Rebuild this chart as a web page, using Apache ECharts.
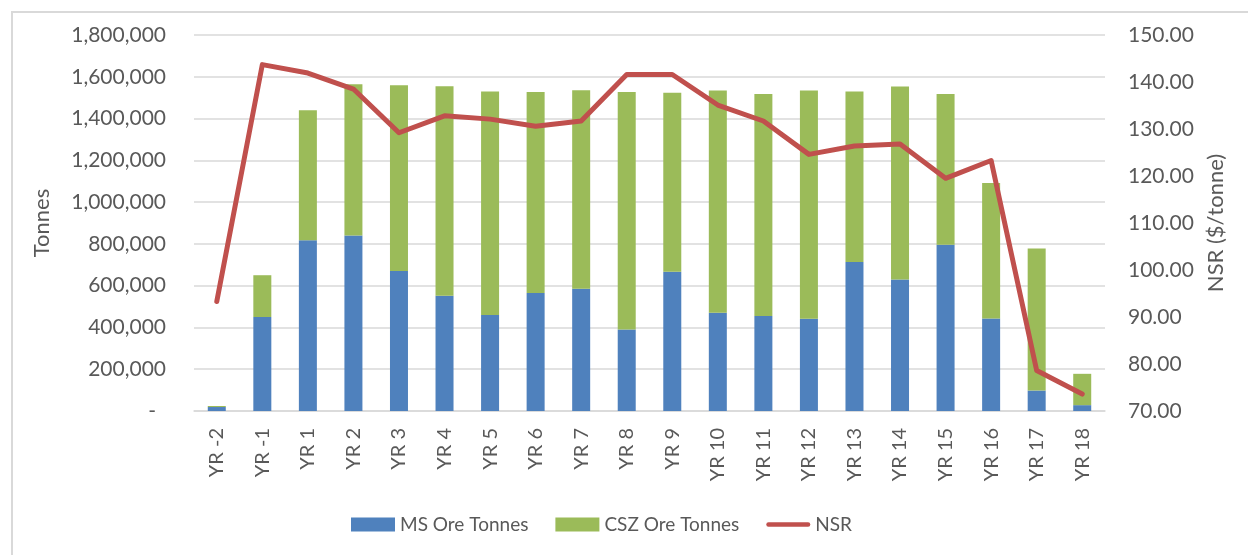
<!DOCTYPE html>
<html>
<head>
<meta charset="utf-8">
<script src="https://cdn.jsdelivr.net/npm/echarts@6/dist/echarts.min.js"></script>
<style>
html,body{margin:0;padding:0;background:#fff;}
#frame{position:absolute;left:11px;top:11px;width:1300px;height:600px;border-left:2px solid #D9D9D9;border-top:2px solid #D9D9D9;box-sizing:border-box;}
#chart{position:absolute;left:0;top:0;width:1248px;height:555px;}
</style>
</head>
<body>
<div id="frame"></div>
<div id="chart"></div>
<script>
const categories = ['YR -2','YR -1','YR 1','YR 2','YR 3','YR 4','YR 5','YR 6','YR 7','YR 8','YR 9','YR 10','YR 11','YR 12','YR 13','YR 14','YR 15','YR 16','YR 17','YR 18'];
const msOreTonnes = [19000,450000,818000,840000,670000,552000,460000,565000,585000,390000,667000,470000,455000,442000,713000,630000,796000,443000,98000,28000];
const cszOreTonnes = [5000,200000,622000,724000,890000,1003000,1070000,962000,950000,1137000,857000,1064000,1063000,1092000,816000,924000,721000,648000,680000,150000];
const nsr = [93.3,143.7,141.9,138.5,129.2,132.8,132.1,130.6,131.7,141.6,141.6,135.1,131.7,124.6,126.4,126.8,119.5,123.3,78.6,73.6];

const FONT = 'Lato';
const TXT = '#595959';
const FS = 21;
const chart = echarts.init(document.getElementById('chart'), null, {renderer:'canvas'});
chart.setOption({
  animation:false,
  backgroundColor:'transparent',
  textStyle:{fontFamily:FONT, color:TXT},
  grid:{left:194, right:143, top:35, bottom:144, containLabel:false},
  legend:{
    left:346, top:510, itemWidth:44, itemHeight:14, itemGap:27,
    textStyle:{fontFamily:FONT, fontSize:19, color:TXT},
    data:[
      {name:'MS Ore Tonnes', icon:'rect'},
      {name:'CSZ Ore Tonnes', icon:'rect'},
      {name:'NSR', icon:'path://M5,0 L95,0 A5,5 0 0 1 95,10 L5,10 A5,5 0 0 1 5,0 Z', itemStyle:{color:'#C0504D'}}
    ]
  },
  xAxis:{
    type:'category', data:categories,
    axisLine:{lineStyle:{color:'#D9D9D9', width:1.5}},
    axisTick:{show:false},
    axisLabel:{rotate:90, fontFamily:FONT, fontSize:20, color:TXT, margin:17, interval:0}
  },
  yAxis:[
    {
      type:'value', min:0, max:1800000, interval:200000,
      name:'Tonnes', nameLocation:'middle', nameGap:141, nameRotate:90,
      nameTextStyle:{fontFamily:FONT, fontSize:22, color:TXT},
      axisLine:{show:false}, axisTick:{show:false},
      splitLine:{lineStyle:{color:'#D9D9D9', width:1.5}},
      axisLabel:{fontFamily:FONT, fontSize:FS, color:TXT, margin:28,
        formatter:function(v){ return v===0 ? '{d|-}' : v.toLocaleString('en-US'); },
        rich:{d:{fontFamily:FONT, fontSize:FS, color:TXT, padding:[0,10,0,0]}}
      }
    },
    {
      type:'value', min:70, max:150, interval:10, position:'right',
      name:'NSR ($/tonne)', nameLocation:'middle', nameGap:96, nameRotate:90,
      nameTextStyle:{fontFamily:FONT, fontSize:22, color:TXT},
      axisLine:{show:false}, axisTick:{show:false}, splitLine:{show:false},
      axisLabel:{fontFamily:FONT, fontSize:FS, color:TXT, margin:23,
        formatter:function(v){ return v.toFixed(2); }}
    }
  ],
  series:[
    {name:'MS Ore Tonnes', type:'bar', stack:'ore', data:msOreTonnes, barWidth:18,
      itemStyle:{color:'#4F81BD'}},
    {name:'CSZ Ore Tonnes', type:'bar', stack:'ore', data:cszOreTonnes, barWidth:18,
      itemStyle:{color:'#9BBB59'}},
    {name:'NSR', type:'line', yAxisIndex:1, data:nsr, symbol:'none',
      lineStyle:{color:'#C0504D', width:5, cap:'round', join:'round'}, itemStyle:{color:'#C0504D'}}
  ]
});
</script>
</body>
</html>
